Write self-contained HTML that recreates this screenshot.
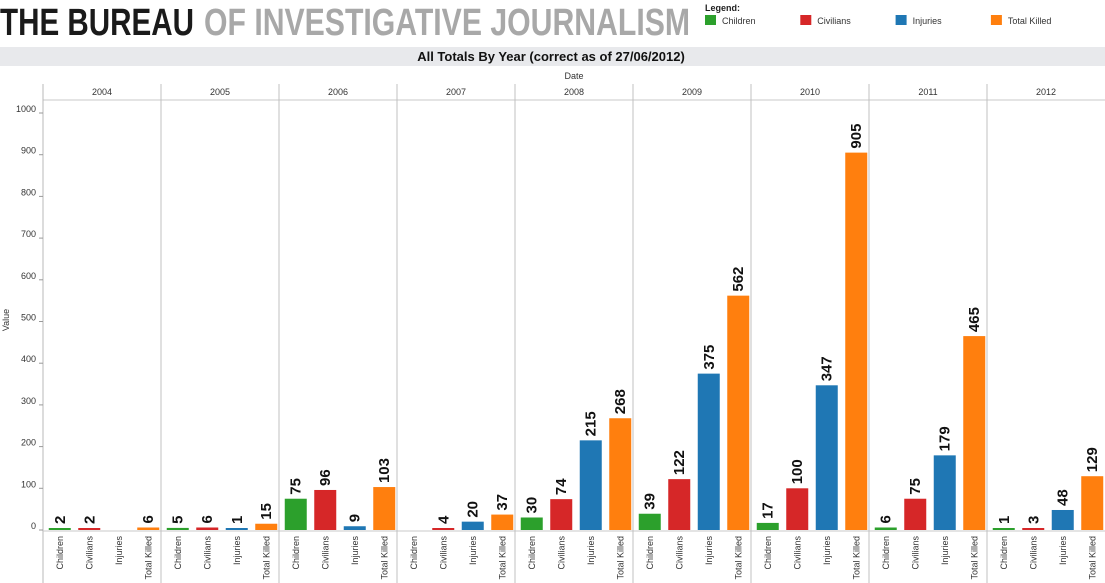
<!DOCTYPE html>
<html><head><meta charset="utf-8"><style>
html,body{margin:0;padding:0;background:#fff;width:1105px;height:583px;overflow:hidden}
svg{display:block;font-family:"Liberation Sans",Arial,sans-serif}
</style></head><body>
<svg id="chart" width="1105" height="583" viewBox="0 0 1105 583">
  <g>
    <text x="0" y="35" font-size="38" font-weight="bold" fill="#1a1a1a" textLength="194" lengthAdjust="spacingAndGlyphs" font-family="'Liberation Sans Narrow','Liberation Sans',sans-serif">THE BUREAU</text>
    <text x="204" y="35" font-size="38" font-weight="bold" fill="#a8a8a8" textLength="486" lengthAdjust="spacingAndGlyphs" font-family="'Liberation Sans Narrow','Liberation Sans',sans-serif">OF INVESTIGATIVE JOURNALISM</text>
  </g>
  <g id="legend">
    <text x="705" y="11" font-size="9" font-weight="bold" fill="#222">Legend:</text>
  </g>
  <rect x="0" y="47" width="1105" height="19" fill="#e8e9ec"/>
  <text x="551" y="61" font-size="13" font-weight="bold" text-anchor="middle" fill="#111">All Totals By Year (correct as of 27/06/2012)</text>
  <text x="574" y="79" font-size="9" text-anchor="middle" fill="#333">Date</text>
  <text x="9" y="320" font-size="9" text-anchor="middle" fill="#333" transform="rotate(-90 9 320)">Value</text>
  <g id="axes"></g>
  <g id="bars"></g>
</svg>
<script>
const years = ["2004","2005","2006","2007","2008","2009","2010","2011","2012"];
const series = ["Children","Civilians","Injuries","Total Killed"];
const colors = ["#2ca02c","#d62728","#1f77b4","#ff7f0e"];
const children = [2,5,75,0,30,39,17,6,1];
const civilians = [2,6,96,4,74,122,100,75,3];
const injuries = [0,1,9,20,215,375,347,179,48];
const totalKilled = [6,15,103,37,268,562,905,465,129];
const yTicks = [0,100,200,300,400,500,600,700,800,900,1000];
const data = [children,civilians,injuries,totalKilled];

const NS="http://www.w3.org/2000/svg";
const X0=43, X1=1105, PW=(X1-X0)/years.length;
const Y0=530, YSCALE=0.417;
function y(v){return Y0 - v*YSCALE;}
function panelX(i){return X0 + i*PW;}
function mk(tag,attrs,parent,txt){const e=document.createElementNS(NS,tag);for(const k in attrs)e.setAttribute(k,attrs[k]);if(txt!==undefined)e.textContent=txt;parent.appendChild(e);return e;}

const leg=document.getElementById('legend');
series.forEach((s,i)=>{
  const lx=705+i*95.3;
  const r=mk('rect',{x:lx,y:15,width:11,height:10,fill:colors[i]},leg);
  
  
  const t=mk('text',{x:lx+17,y:24,'font-size':9,fill:'#333'},leg,s);
  
  
});

const ax=document.getElementById('axes');
mk('line',{x1:X0,y1:100,x2:X1,y2:100,stroke:'#c8c8c8'},ax);
mk('line',{x1:X0,y1:84,x2:X0,y2:583,stroke:'#b8b8b8'},ax);
mk('line',{x1:X0,y1:Y0+1,x2:X1,y2:Y0+1,stroke:'#c8c8c8'},ax);
years.forEach((yr,i)=>{
  const px=panelX(i);
  if(i>0) mk('line',{x1:px,y1:84,x2:px,y2:583,stroke:'#c0c0c0'},ax);
  const t=mk('text',{x:px+PW/2,y:95,'font-size':9,'text-anchor':'middle',fill:'#333'},ax,yr);
  
  
});
yTicks.forEach(v=>{
  mk('line',{x1:X0-4,y1:y(v),x2:X0,y2:y(v),stroke:'#999'},ax);
  const t=mk('text',{x:X0-7,y:y(v)-1,'font-size':9,'text-anchor':'end',fill:'#333'},ax,v);
  
  
});

const bg=document.getElementById('bars');
years.forEach((yr,i)=>{
  const px=panelX(i);
  series.forEach((s,j)=>{
    const v=data[j][i];
    const cx=px+PW*(j+0.5)/4+2;
    const bw=22;
    const top=y(v);
    const h=Math.max(Y0-top,2);
    if(v>0){
      const r=mk('rect',{x:cx-bw/2,y:Y0-h,width:bw,height:h,fill:colors[j]},bg);
      
      
      const lx=cx+5, ly=Y0-h-4;
      const t=mk('text',{x:lx,y:ly,'font-size':15,'font-weight':'bold','text-anchor':'start',fill:'#111',transform:`rotate(-90 ${lx} ${ly})`},bg,v);
      
      
    }
    const lx=cx+3, ly=536;
    const c=mk('text',{x:lx,y:ly,'font-size':9,'text-anchor':'end',fill:'#333',transform:`rotate(-90 ${lx} ${ly})`},bg,s);
    
    
  });
});
</script>
</body></html>
